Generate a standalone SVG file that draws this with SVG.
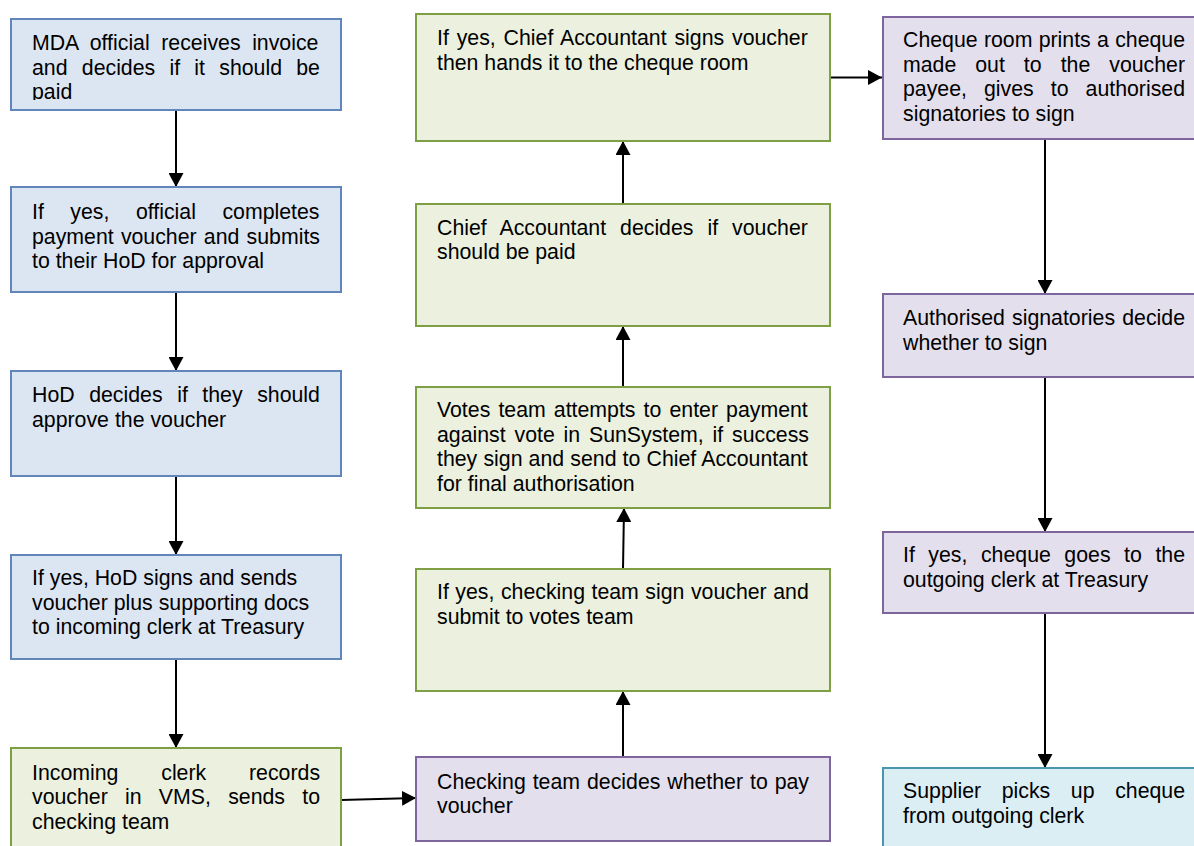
<svg xmlns="http://www.w3.org/2000/svg" width="1194" height="846" viewBox="0 0 1194 846">
<style>
text{font-family:"Liberation Sans",Arial,sans-serif;font-size:21.3px;fill:#000}
.b{fill:#dce6f2;stroke:#6386ba;stroke-width:2}
.g{fill:#ebf1de;stroke:#7f9f45;stroke-width:2}
.p{fill:#e4dfec;stroke:#7e659e;stroke-width:2}
.c{fill:#dbeef4;stroke:#4a97ad;stroke-width:2}
.e{stroke:#000;stroke-width:2;fill:none;marker-end:url(#ah)}
</style>
<defs>
<marker id="ah" markerUnits="userSpaceOnUse" markerWidth="15" markerHeight="15" refX="14" refY="7.5" orient="auto">
<path d="M0,0 L14,7.5 L0,15 z" fill="#000"/>
</marker>
<clipPath id="clip1"><rect x="11" y="19" width="330" height="81"/></clipPath>
</defs>
<rect width="1194" height="846" fill="#fff"/>
<g id="connectors">
<line class="e" x1="176" y1="110" x2="176" y2="187"/>
<line class="e" x1="176" y1="292" x2="176" y2="371"/>
<line class="e" x1="176" y1="476" x2="176" y2="555"/>
<line class="e" x1="176" y1="659" x2="176" y2="748"/>
<line class="e" x1="341" y1="800" x2="416" y2="798"/>
<line class="e" x1="623" y1="757" x2="623" y2="691"/>
<line class="e" x1="623" y1="569" x2="624" y2="508"/>
<line class="e" x1="623" y1="387" x2="623" y2="326"/>
<line class="e" x1="623" y1="204" x2="623" y2="141"/>
<line class="e" x1="830" y1="77.5" x2="882" y2="77.5"/>
<line class="e" x1="1045" y1="139" x2="1045" y2="294"/>
<line class="e" x1="1045" y1="377" x2="1045" y2="532"/>
<line class="e" x1="1045" y1="613" x2="1045" y2="768"/>
</g>
<g id="n1">
<rect class="b" x="11" y="19" width="330" height="91"/>
<g clip-path="url(#clip1)">
<text x="32" y="50" word-spacing="5.65">MDA official receives invoice</text>
<text x="32" y="74.5" word-spacing="8.34">and decides if it should be</text>
<text x="32" y="99">paid</text>
</g>
</g>
<g id="n2">
<rect class="b" x="11" y="187" width="330" height="105"/>
<text x="32" y="219" word-spacing="20.6">If yes, official completes</text>
<text x="32" y="243.5" word-spacing="1.28">payment voucher and submits</text>
<text x="32" y="268">to their HoD for approval</text>
</g>
<g id="n3">
<rect class="b" x="11" y="371" width="330" height="105"/>
<text x="32" y="402" word-spacing="8.65">HoD decides if they should</text>
<text x="32" y="426.5">approve the voucher</text>
</g>
<g id="n4">
<rect class="b" x="11" y="555" width="330" height="104"/>
<text x="32" y="585">If yes, HoD signs and sends</text>
<text x="32" y="609.5">voucher plus supporting docs</text>
<text x="32" y="634">to incoming clerk at Treasury</text>
</g>
<g id="n5">
<rect class="g" x="11" y="748" width="330" height="110"/>
<text x="32" y="780" word-spacing="36.9">Incoming clerk records</text>
<text x="32" y="804" word-spacing="11.33">voucher in VMS, sends to</text>
<text x="32" y="828.5">checking team</text>
</g>
<g id="m1">
<rect class="g" x="416" y="14" width="414" height="127"/>
<text x="437" y="45" word-spacing="1.94">If yes, Chief Accountant signs voucher</text>
<text x="437" y="69.5">then hands it to the cheque room</text>
</g>
<g id="m2">
<rect class="g" x="416" y="204" width="414" height="122"/>
<text x="437" y="234.5" word-spacing="8.06">Chief Accountant decides if voucher</text>
<text x="437" y="259">should be paid</text>
</g>
<g id="m3">
<rect class="g" x="416" y="387" width="414" height="121"/>
<text x="437" y="417" word-spacing="2.18">Votes team attempts to enter payment</text>
<text x="437" y="441.5" word-spacing="2.9">against vote in SunSystem, if success</text>
<text x="437" y="466" word-spacing="0.23">they sign and send to Chief Accountant</text>
<text x="437" y="490.5">for final authorisation</text>
</g>
<g id="m4">
<rect class="g" x="416" y="569" width="414" height="122"/>
<text x="437" y="599" word-spacing="0.6">If yes, checking team sign voucher and</text>
<text x="437" y="623.5">submit to votes team</text>
</g>
<g id="m5">
<rect class="p" x="416" y="757" width="414" height="84"/>
<text x="437" y="789" word-spacing="1.0">Checking team decides whether to pay</text>
<text x="437" y="812.5">voucher</text>
</g>
<g id="r1">
<rect class="p" x="883" y="17" width="330" height="122"/>
<text x="903" y="47" word-spacing="0.36">Cheque room prints a cheque</text>
<text x="903" y="71.5" word-spacing="13.08">made out to the voucher</text>
<text x="903" y="96" word-spacing="11.12">payee, gives to authorised</text>
<text x="903" y="120.5">signatories to sign</text>
</g>
<g id="r2">
<rect class="p" x="883" y="294" width="330" height="83"/>
<text x="903" y="325" word-spacing="1.31">Authorised signatories decide</text>
<text x="903" y="349.5">whether to sign</text>
</g>
<g id="r3">
<rect class="p" x="883" y="532" width="330" height="81"/>
<text x="903" y="562" word-spacing="7.62">If yes, cheque goes to the</text>
<text x="903" y="586.5">outgoing clerk at Treasury</text>
</g>
<g id="r4">
<rect class="c" x="883" y="768" width="330" height="90"/>
<text x="903" y="798" word-spacing="14.68">Supplier picks up cheque</text>
<text x="903" y="822.5">from outgoing clerk</text>
</g>
</svg>
